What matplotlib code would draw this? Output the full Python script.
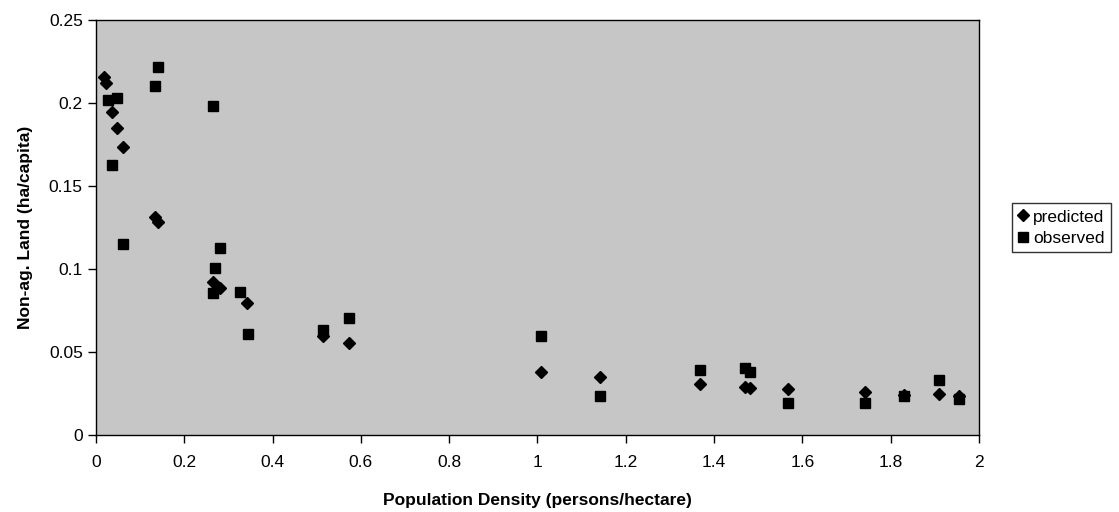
import matplotlib.pyplot as plt

plt.rcParams['font.family'] = ['Liberation Sans', 'DejaVu Sans']

# predicted values (diamonds)
pred_x = [0.018, 0.023, 0.037, 0.048, 0.062, 0.134, 0.141, 0.266, 0.281, 0.341,
          0.515, 0.573, 1.009, 1.142, 1.368, 1.470, 1.481, 1.568, 1.742, 1.830,
          1.909, 1.955]
pred_y = [0.2158, 0.2119, 0.1948, 0.1848, 0.1737, 0.1315, 0.1281, 0.0923, 0.0884, 0.0793,
          0.0596, 0.0556, 0.0378, 0.0348, 0.0311, 0.0291, 0.0287, 0.0277, 0.0261, 0.0243,
          0.0247, 0.0235]

# observed values (squares)
obs_x = [0.028, 0.047, 0.037, 0.062, 0.134, 0.141, 0.264, 0.270, 0.266, 0.281,
         0.326, 0.345, 0.515, 0.573, 1.009, 1.142, 1.368, 1.470, 1.481, 1.568,
         1.742, 1.830, 1.909, 1.955]
obs_y = [0.2018, 0.2032, 0.1627, 0.1149, 0.2102, 0.2215, 0.1982, 0.1008, 0.0854, 0.1128,
         0.0863, 0.0608, 0.0633, 0.0703, 0.0598, 0.0237, 0.0392, 0.0402, 0.0381, 0.0191,
         0.0191, 0.0237, 0.0331, 0.0217]

x_ticks = [0, 0.2, 0.4, 0.6, 0.8, 1, 1.2, 1.4, 1.6, 1.8, 2]
x_tick_labels = ["0", "0.2", "0.4", "0.6", "0.8", "1", "1.2", "1.4", "1.6", "1.8", "2"]
y_ticks = [0, 0.05, 0.1, 0.15, 0.2, 0.25]
y_tick_labels = ["0", "0.05", "0.1", "0.15", "0.2", "0.25"]

fs = 12.5

fig = plt.figure(figsize=(11.19, 5.12), dpi=100)
ax = fig.add_axes([0.0858, 0.150, 0.789, 0.811])
ax.set_facecolor('#c6c6c6')

ax.plot(pred_x, pred_y, linestyle='none', marker='D', markersize=6.5,
        color='black', label='predicted')
ax.plot(obs_x, obs_y, linestyle='none', marker='s', markersize=7.5,
        color='black', label='observed')

ax.set_xlim(0, 2)
ax.set_ylim(0, 0.25)
ax.set_xticks(x_ticks)
ax.set_xticklabels(x_tick_labels)
ax.set_yticks(y_ticks)
ax.set_yticklabels(y_tick_labels)
ax.tick_params(direction='out', length=5.5, width=1, labelsize=fs)
ax.tick_params(axis='x', pad=9)
ax.tick_params(axis='y', pad=4)

for side in ax.spines.values():
    side.set_color('black')
    side.set_linewidth(1)

ax.set_xlabel("Population Density (persons/hectare)", fontsize=fs, fontweight='bold')
ax.set_ylabel("Non-ag. Land (ha/capita)", fontsize=fs, fontweight='bold')
ax.xaxis.set_label_coords(0.5, -0.14)
ax.yaxis.set_label_coords(-0.071, 0.5)

leg = ax.legend(loc='center left', bbox_to_anchor=(1.037, 0.5), frameon=True,
                fancybox=False, edgecolor='black', fontsize=fs,
                handlelength=0.6, handletextpad=0.3, borderpad=0.35,
                labelspacing=0.35, borderaxespad=0)
leg.get_frame().set_linewidth(1)

fig.savefig("out.png", dpi=100)
